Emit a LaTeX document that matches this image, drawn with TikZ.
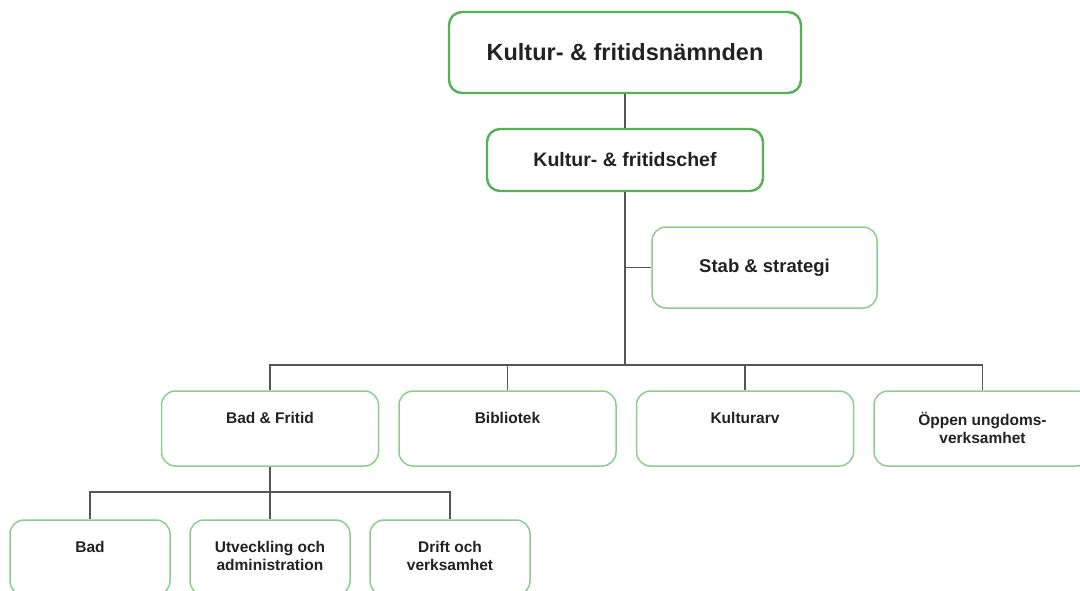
\documentclass[tikz,border=0pt]{standalone}
\usepackage{fontspec}
\setmainfont{Liberation Sans}
\definecolor{topgreen}{RGB}{84,178,84}
\definecolor{lowgreen}{RGB}{140,206,140}
\definecolor{linegray}{RGB}{85,85,85}
\definecolor{textgray}{RGB}{34,34,34}
\tikzset{
  topbox/.style={draw=topgreen, line width=2.4pt, rounded corners=13pt, fill=white, text=textgray, font=\bfseries},
  lowbox/.style={draw=lowgreen, line width=1.5pt, rounded corners=14pt, fill=white, minimum width=217pt, minimum height=75pt},
  lowtext/.style={anchor=north, inner sep=0pt, align=center, text=textgray, font=\bfseries\fontsize{15.5}{18}\selectfont},
  conn/.style={draw=linegray, line width=1.1pt}
}
\begin{document}
\begin{tikzpicture}[x=1pt,y=-1pt]
\useasboundingbox (0,0) rectangle (1080,590);
\clip (0,0) rectangle (1080,590);
\fill[white] (0,0) rectangle (1080,590);
% top of the tree
\node[topbox, minimum width=352pt, minimum height=81pt, font=\bfseries\fontsize{23.5}{26}\selectfont] (nmd) at (625,52.5) {Kultur- \& fritidsnämnden};
\node[topbox, minimum width=276pt, minimum height=62pt, font=\bfseries\fontsize{19.5}{22}\selectfont] (chef) at (625,160) {Kultur- \& fritidschef};
\node[topbox, draw=lowgreen, line width=1.5pt, rounded corners=14pt, minimum width=225pt, minimum height=81pt, font=\bfseries\fontsize{18.5}{21}\selectfont] (stab) at (764.5,267.5) {Stab \& strategi};
\coordinate (bus) at (625,365);
% second row
\node[lowbox] (badfritid) at (270,428.5) {};
\node[lowbox] (bib) at (507.5,428.5) {};
\node[lowbox] (kulturarv) at (745,428.5) {};
\node[lowbox] (oppen) at (982.5,428.5) {};
\node[lowtext] (badfritid-t) at ([yshift=-22pt]badfritid.north) {Bad \& Fritid};
\node[lowtext] (bib-t) at ([yshift=-22pt]bib.north) {Bibliotek};
\node[lowtext] (kulturarv-t) at ([yshift=-22pt]kulturarv.north) {Kulturarv};
\node[lowtext] (oppen-t) at ([yshift=-22pt]oppen.north) {Öppen ungdoms-\\verksamhet};
\coordinate (bus2) at (270,492);
% third row
\node[lowbox, minimum width=160pt] (bad) at (90,557.5) {};
\node[lowbox, minimum width=160pt] (utv) at (270,557.5) {};
\node[lowbox, minimum width=160pt] (drift) at (450,557.5) {};
\node[lowtext] (bad-t) at ([yshift=-22pt]bad.north) {Bad};
\node[lowtext] (utv-t) at ([yshift=-22pt]utv.north) {Utveckling och\\administration};
\node[lowtext] (drift-t) at ([yshift=-22pt]drift.north) {Drift och\\verksamhet};
% connectors
\draw[conn] (nmd.south) -- (chef.north);
\draw[conn] (chef.south) -- (bus);
\draw[conn] (stab.west) -- (stab.west -| bus);
\draw[conn] (badfritid.north) |- (bus) -| (oppen.north);
\draw[conn] (bib.north) -- (bib.north |- bus);
\draw[conn] (kulturarv.north) -- (kulturarv.north |- bus);
\draw[conn] (badfritid.south) -- (bus2);
\draw[conn] (bad.north) |- (bus2) -| (drift.north);
\draw[conn] (utv.north) -- (bus2);
\end{tikzpicture}
\end{document}
